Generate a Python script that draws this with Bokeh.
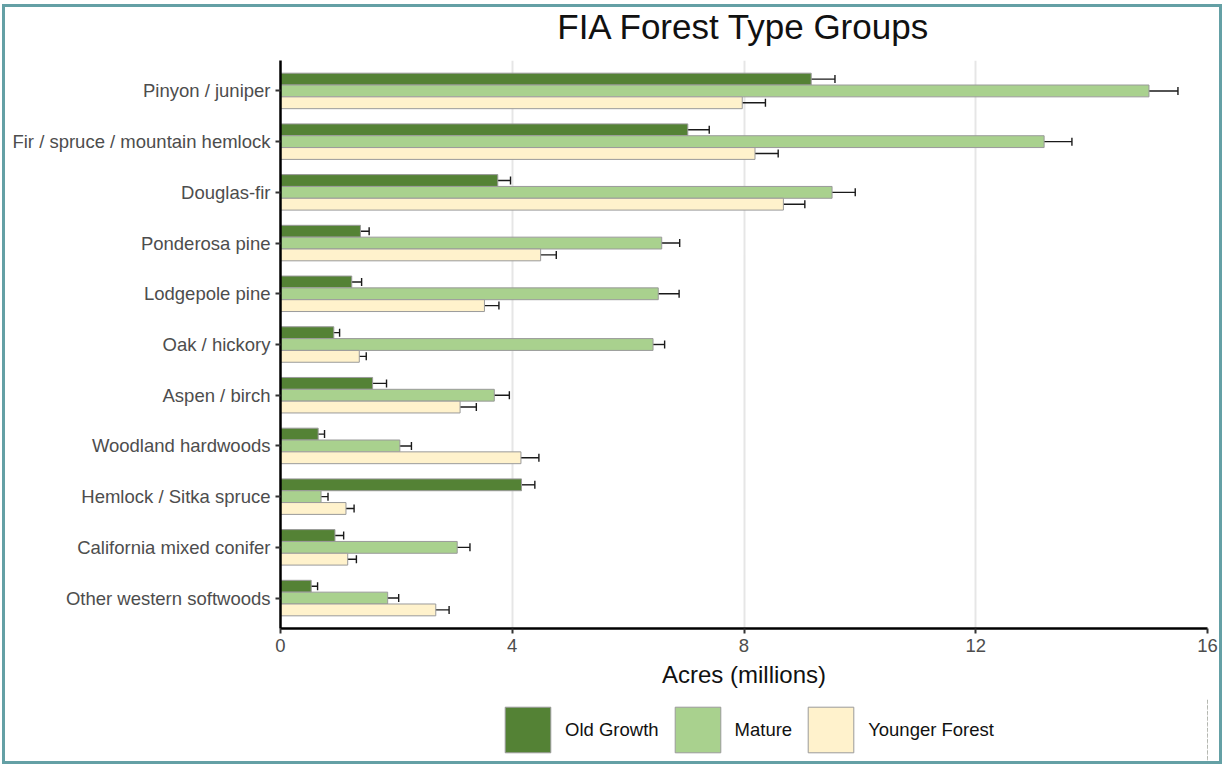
import numpy as np
from bokeh.plotting import figure
from bokeh.layouts import column
from bokeh.models import (ColumnDataSource, Range1d, FixedTicker, Whisker, TeeHead,
                          Legend, LegendItem, Label)
from bokeh.transform import dodge
from bokeh.embed import file_html
from bokeh.resources import INLINE

# Forest type groups, top to bottom
categories = [
    "Pinyon / juniper",
    "Fir / spruce / mountain hemlock",
    "Douglas-fir",
    "Ponderosa pine",
    "Lodgepole pine",
    "Oak / hickory",
    "Aspen / birch",
    "Woodland hardwoods",
    "Hemlock / Sitka spruce",
    "California mixed conifer",
    "Other western softwoods",
]

# Acres (millions) with lower / upper error bounds
old_growth    = [9.16, 7.03, 3.75, 1.38, 1.23, 0.92, 1.59, 0.65, 4.16, 0.94, 0.53]
old_growth_lo = [8.74, 6.68, 3.52, 1.24, 1.07, 0.82, 1.36, 0.53, 3.93, 0.80, 0.42]
old_growth_hi = [9.57, 7.40, 3.97, 1.53, 1.40, 1.02, 1.83, 0.76, 4.39, 1.09, 0.64]

mature    = [14.99, 13.18, 9.52, 6.58, 6.52, 6.43, 3.69, 2.06, 0.70, 3.05, 1.85]
mature_lo = [14.47, 12.69, 9.11, 6.26, 6.17, 6.22, 3.42, 1.84, 0.58, 2.83, 1.67]
mature_hi = [15.49, 13.66, 9.92, 6.89, 6.88, 6.63, 3.95, 2.26, 0.82, 3.27, 2.04]

younger    = [7.97, 8.19, 8.68, 4.49, 3.52, 1.36, 3.10, 4.15, 1.13, 1.16, 2.68]
younger_lo = [7.58, 7.80, 8.30, 4.22, 3.29, 1.24, 2.83, 3.86, 1.00, 1.00, 2.44]
younger_hi = [8.37, 8.59, 9.05, 4.76, 3.77, 1.48, 3.38, 4.46, 1.27, 1.31, 2.91]

series_names = ["Old Growth", "Mature", "Younger Forest"]
series_colors = ["#548235", "#a9d18e", "#fff2cc"]
x_ticks = [0, 4, 8, 12, 16]
title_text = "FIA Forest Type Groups"

FONT = "Liberation Sans"
n = len(categories)
y_pos = [float(n - i) for i in range(n)]

dodge_w = 0.7
bar_h = dodge_w / 3
offsets = [bar_h, 0.0, -bar_h]

FRAME_W = 927
LEFT, RIGHT = 275, 12
x_rng = Range1d(x_ticks[0], x_ticks[-1])


def strip(h, xr, yr):
    """A bare figure sharing the main chart's horizontal geometry."""
    f = figure(frame_width=FRAME_W, frame_height=h, x_range=xr, y_range=yr,
               output_backend="svg", toolbar_location=None,
               x_axis_location=None, y_axis_location=None,
               min_border_left=LEFT, min_border_right=RIGHT,
               min_border_top=0, min_border_bottom=0)
    f.outline_line_color = None
    f.xgrid.visible = False
    f.ygrid.visible = False
    return f


# title strip, centred over the plotting area (y range in pixels)
tf = strip(53, x_rng, Range1d(0, 53))
tf.add_layout(Label(x=(x_ticks[0] + x_ticks[-1]) / 2, y=34.5, text=title_text,
                    text_align="center", text_baseline="middle", text_font=FONT,
                    text_font_size="35px", text_color="#111111"))

p = figure(
    frame_width=FRAME_W, frame_height=568,
    x_range=x_rng, y_range=Range1d(0.4, n + 0.6),
    output_backend="svg", toolbar_location=None,
    min_border_left=LEFT, min_border_right=RIGHT, min_border_top=0, min_border_bottom=70,
)
p.outline_line_color = None
p.background_fill_color = "white"

values = [old_growth, mature, younger]
lows = [old_growth_lo, mature_lo, younger_lo]
highs = [old_growth_hi, mature_hi, younger_hi]

# legend strip: same bar renderers, x range set left of zero so only the keys show
lf = strip(63, Range1d(-2, -1), Range1d(0.4, n + 0.6))

items = []
for name, color, off, v, lo, hi in zip(series_names, series_colors, offsets, values, lows, highs):
    src = ColumnDataSource(dict(y=y_pos, v=v, lo=lo, hi=hi))
    p.hbar(y=dodge("y", off), right="v", left=0, height=bar_h, source=src,
           fill_color=color, line_color="#9a9a9a", line_width=1)
    w = Whisker(base=dodge("y", off), lower="lo", upper="hi", dimension="width", source=src,
                line_color="#1a1a1a", line_width=1.4,
                upper_head=TeeHead(size=8, line_color="#1a1a1a", line_width=1.4),
                lower_head=TeeHead(size=8, line_color="#1a1a1a", line_width=1.4))
    p.add_layout(w)
    key = lf.hbar(y=dodge("y", off), right="v", left=0, height=bar_h, source=src,
                  fill_color=color, line_color="#9a9a9a", line_width=1)
    items.append(LegendItem(label=name, renderers=[key]))

# x axis
p.xaxis.ticker = FixedTicker(ticks=x_ticks)
p.xaxis.axis_label = "Acres (millions)"
p.xaxis.axis_label_text_font = FONT
p.xaxis.axis_label_text_font_size = "24px"
p.xaxis.axis_label_text_font_style = "normal"
p.xaxis.axis_label_text_color = "#111111"
p.xaxis.axis_label_standoff = 6

# y axis with category names
p.yaxis.ticker = FixedTicker(ticks=y_pos)
p.yaxis.major_label_overrides = {yy: c for yy, c in zip(y_pos, categories)}

for ax in (p.xaxis, p.yaxis):
    ax.axis_line_color = "black"
    ax.axis_line_width = 2.5
    ax.major_tick_line_color = "#333333"
    ax.major_tick_line_width = 2
    ax.major_tick_out = 5
    ax.major_tick_in = 0
    ax.minor_tick_line_color = None
    ax.major_label_text_font = FONT
    ax.major_label_text_font_size = "18.5px"
    ax.major_label_text_color = "#4d4d4d"
    ax.major_label_standoff = 5

p.xgrid.ticker = FixedTicker(ticks=x_ticks)
p.xgrid.grid_line_color = "#e6e6e6"
p.xgrid.grid_line_width = 2
p.ygrid.grid_line_color = None

legend = Legend(items=items, orientation="horizontal", location=(219, 3))
legend.glyph_width = 57
legend.glyph_height = 57
legend.label_standoff = 9
legend.spacing = 10
legend.padding = 0
legend.margin = 0
legend.border_line_color = None
legend.background_fill_alpha = 0
legend.label_text_font = FONT
legend.label_text_font_size = "18.5px"
legend.label_text_color = "#111111"
lf.add_layout(legend, "center")

page = column(tf, p, lf, spacing=0,
              styles={"border": "3px solid #64a0a5", "margin-left": "2px", "margin-top": "4px"})

open("out.html", "w").write(file_html(page, INLINE))
